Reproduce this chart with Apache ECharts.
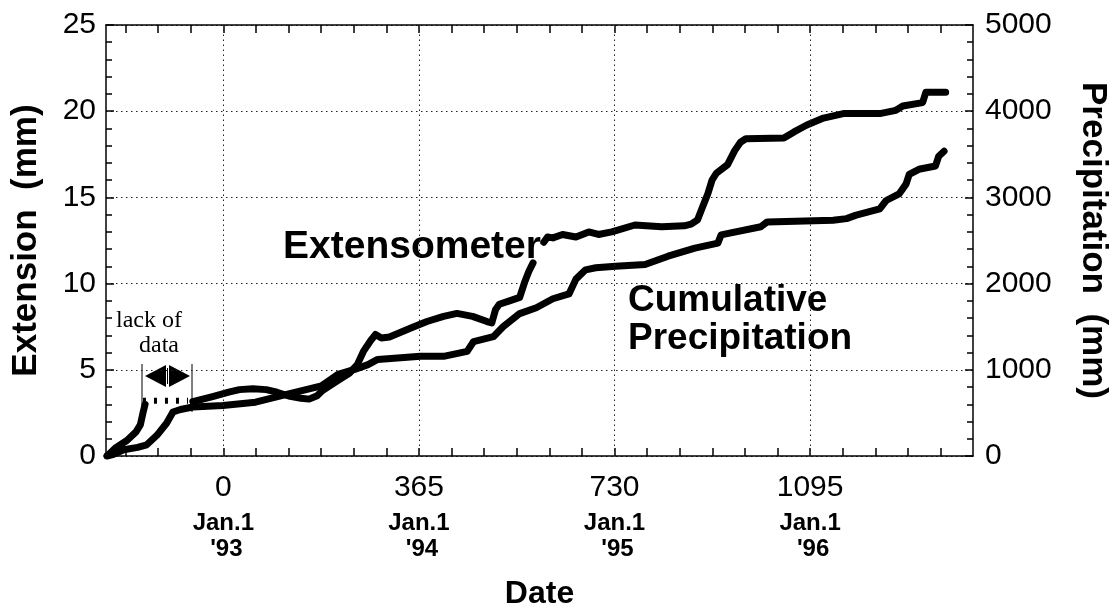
<!DOCTYPE html>
<html>
<head>
<meta charset="utf-8">
<script src="https://cdn.jsdelivr.net/npm/echarts@6.0.0/dist/echarts.min.js"></script>
<style>
  html, body { margin: 0; padding: 0; background: #fff; }
  #chart { width: 1118px; height: 615px; }
</style>
</head>
<body>
<div id="chart"></div>
<script>
// days from Jan.1 '93 ; extension in mm
var extBefore = [[-217, 0], [-200, 0.5], [-180, 0.9], [-163, 1.4], [-155, 1.8], [-150, 2.5], [-146, 3.0]];
var lackOfData = [[-150, 3.2], [-66, 3.2]];
var extAfter = [[-57, 3.15], [-20, 3.45], [10, 3.7], [30, 3.85], [55, 3.9], [80, 3.85], [100, 3.7], [122, 3.48],
  [145, 3.35], [160, 3.3], [175, 3.5], [185, 3.8], [200, 4.1], [215, 4.4], [235, 4.8], [250, 5.3], [262, 6.1],
  [275, 6.7], [284, 7.05], [295, 6.85], [310, 6.9], [350, 7.42], [380, 7.8], [411, 8.1], [436, 8.27], [465, 8.1],
  [492, 7.8], [501, 7.72], [508, 8.5], [515, 8.8], [534, 9.0], [553, 9.2], [562, 10.06], [570, 10.7], [578, 11.2],
  [588, null],
  [598, 12.4], [605, 12.7], [615, 12.65], [633, 12.85], [658, 12.7], [682, 13.0], [700, 12.85], [725, 13.0],
  [768, 13.4], [818, 13.3], [860, 13.35], [873, 13.45], [885, 13.7], [895, 14.5], [904, 15.2], [912, 16.0],
  [920, 16.4], [941, 16.9], [954, 17.7], [965, 18.2], [975, 18.4], [1046, 18.44], [1065, 18.8], [1089, 19.2],
  [1120, 19.6], [1157, 19.86], [1225, 19.86], [1255, 20.05], [1268, 20.3], [1305, 20.5], [1311, 21.1], [1348, 21.1]];
// cumulative precipitation, mm
var precip = [[-217, 0], [-205, 20], [-186, 72], [-160, 100], [-143, 130], [-124, 240], [-106, 380], [-94, 510],
  [-80, 540], [-57, 568], [-1, 586], [60, 624], [122, 720], [183, 814], [214, 948], [245, 1004], [270, 1060],
  [288, 1120], [368, 1156], [411, 1156], [455, 1214], [467, 1328], [504, 1384], [522, 1500], [553, 1652],
  [584, 1720], [615, 1824], [645, 1880], [658, 2052], [676, 2160], [695, 2184], [732, 2200], [787, 2222],
  [830, 2318], [880, 2412], [923, 2470], [929, 2566], [1003, 2660], [1015, 2716], [1138, 2736], [1163, 2754],
  [1181, 2794], [1225, 2868], [1237, 2964], [1261, 3040], [1274, 3154], [1280, 3268], [1298, 3326],
  [1329, 3364], [1335, 3478], [1345, 3536]];

var dayTicks = [0, 365, 730, 1095];
var yearLabels = ["'93", "'94", "'95", "'96"];
var minorDays = [];
for (var k = -3; k <= 22; k++) minorDays.push(k * 365 / 6);

var chartDom = document.getElementById('chart');
var myChart = echarts.init(chartDom);
var sans = 'Liberation Sans, Arial, Helvetica, sans-serif';
var serif = 'Liberation Serif, Times New Roman, serif';
var black = { color: '#000', width: 1.5 };
var dots = { color: '#222', width: 1, type: [1.5, 3.5] };

var option = {
  animation: false,
  grid: { left: 106, right: 139, top: 25, bottom: 152 },
  xAxis: [
    {
      type: 'value', min: -219, max: 1399,
      name: 'Date', nameLocation: 'middle', nameGap: 122,
      nameTextStyle: { fontSize: 32, fontWeight: 'bold', color: '#000', fontFamily: sans },
      axisLine: { onZero: false, lineStyle: black },
      axisTick: { inside: true, length: 8, customValues: minorDays, lineStyle: black },
      splitLine: { show: false },
      axisLabel: {
        customValues: dayTicks, margin: 10, color: '#000',
        formatter: function (v) {
          var i = dayTicks.indexOf(v);
          return '{n|' + v + '}\n{d|Jan.1}\n{y|' + yearLabels[i] + '}';
        },
        rich: {
          n: { fontSize: 30, fontFamily: sans, lineHeight: 44, color: '#000' },
          d: { fontSize: 24, fontWeight: 'bold', fontFamily: sans, lineHeight: 26, color: '#000' },
          y: { fontSize: 24, fontWeight: 'bold', fontFamily: sans, lineHeight: 26, color: '#000', padding: [0, 0, 0, 6] }
        }
      }
    },
    {
      type: 'value', min: -219, max: 1399, position: 'top',
      axisLine: { onZero: false, lineStyle: black },
      axisTick: { inside: true, length: 8, customValues: minorDays, lineStyle: black },
      axisLabel: { show: false },
      splitLine: { show: false }
    }
  ],
  yAxis: [
    {
      type: 'value', min: 0, max: 25, interval: 5,
      name: 'Extension  (mm)', nameLocation: 'middle', nameGap: 62, nameRotate: 90,
      nameTextStyle: { fontSize: 35, fontWeight: 'bold', color: '#000', fontFamily: sans },
      axisLine: { show: true, onZero: false, lineStyle: black },
      axisTick: { inside: true, length: 8, lineStyle: black },
      minorTick: { show: true, splitNumber: 5, length: 6, lineStyle: black },
      axisLabel: { fontSize: 30, color: '#000', fontFamily: sans, margin: 10 },
      splitLine: { show: true, lineStyle: dots }
    },
    {
      type: 'value', min: 0, max: 5000, interval: 1000, position: 'right',
      name: 'Precipitation  (mm)', nameLocation: 'middle', nameGap: 102, nameRotate: -90,
      nameTextStyle: { fontSize: 35, fontWeight: 'bold', color: '#000', fontFamily: sans },
      axisLine: { show: true, onZero: false, lineStyle: black },
      axisTick: { inside: true, length: 8, lineStyle: black },
      minorTick: { show: true, splitNumber: 5, length: 6, lineStyle: black },
      axisLabel: { fontSize: 30, color: '#000', fontFamily: sans, margin: 12, formatter: function (v) { return String(v); } },
      splitLine: { show: false }
    }
  ],
  series: [
    {
      name: 'Cumulative Precipitation', type: 'line', yAxisIndex: 1, data: precip,
      symbol: 'none', lineStyle: { color: '#000', width: 7, cap: 'round', join: 'round' },
      markLine: {
        silent: true, symbol: 'none', label: { show: false },
        lineStyle: dots,
        data: dayTicks.map(function (d) { return { xAxis: d }; })
      },
      z: 3
    },
    {
      name: 'Extensometer', type: 'line', data: extBefore,
      symbol: 'none', lineStyle: { color: '#000', width: 7, cap: 'round', join: 'round' }
    },
    {
      name: 'lack of data', type: 'line', data: lackOfData,
      symbol: 'none', lineStyle: { color: '#000', width: 6, type: [3, 8], cap: 'butt' }
    },
    {
      name: 'Extensometer ', type: 'line', data: extAfter, connectNulls: false,
      symbol: 'none', lineStyle: { color: '#000', width: 7, cap: 'round', join: 'round' }
    }
  ],
  graphic: [
    { type: 'text', left: 283, top: 228, style: { text: 'Extensometer', fontSize: 39, fontWeight: 'bold', fontFamily: sans, fill: '#000' } },
    { type: 'text', left: 628, top: 282, style: { text: 'Cumulative\nPrecipitation', fontSize: 37, fontWeight: 'bold', fontFamily: sans, fill: '#000', lineHeight: 38 } },
    { type: 'text', left: 116, top: 309, style: { text: 'lack of', fontSize: 24, fontFamily: serif, fill: '#000' } },
    { type: 'text', left: 139, top: 334, style: { text: 'data', fontSize: 24, fontFamily: serif, fill: '#000' } },
    { type: 'line', shape: { x1: 142, y1: 364, x2: 142, y2: 412 }, style: { stroke: '#000', lineWidth: 1 } },
    { type: 'line', shape: { x1: 192, y1: 364, x2: 192, y2: 412 }, style: { stroke: '#000', lineWidth: 1 } },
    { type: 'polygon', shape: { points: [[145, 376], [166, 365], [166, 387]] }, style: { fill: '#000' } },
    { type: 'polygon', shape: { points: [[190, 376], [169, 365], [169, 387]] }, style: { fill: '#000' } },
    { type: 'line', shape: { x1: 167.5, y1: 368, x2: 167.5, y2: 384 }, style: { stroke: '#000', lineWidth: 1 } }
  ]
};

option && myChart.setOption(option);
</script>
</body>
</html>
